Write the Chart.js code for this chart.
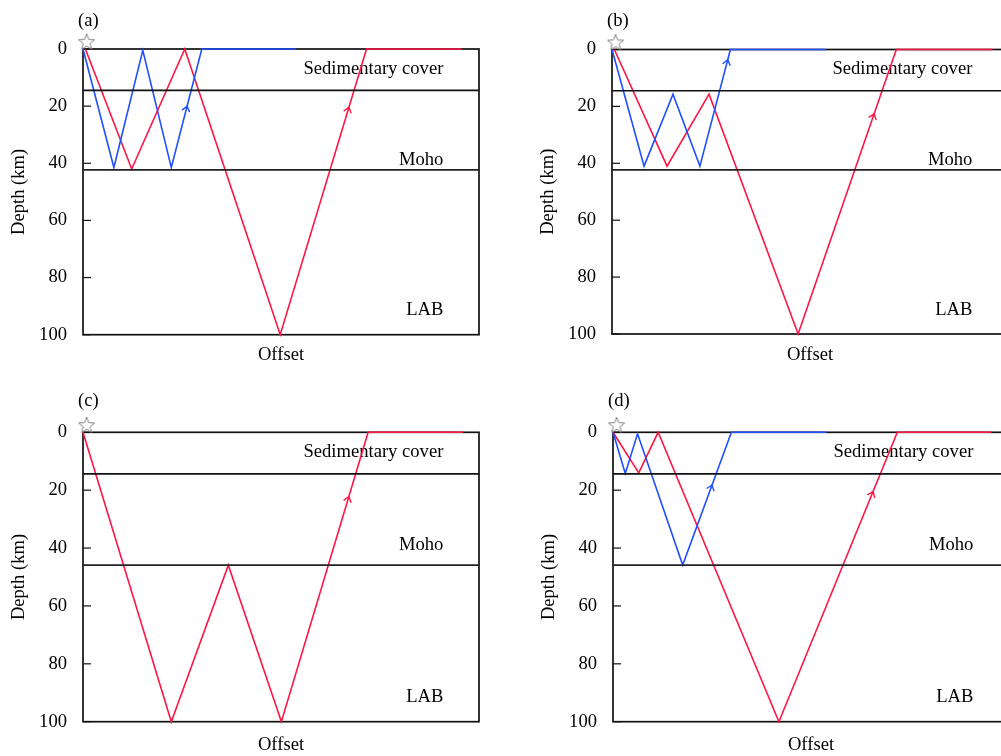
<!DOCTYPE html>
<html>
<head>
<meta charset="utf-8">
<script src="https://cdn.jsdelivr.net/npm/chart.js@4.4.1/dist/chart.umd.min.js"></script>
<style>
  html, body { margin: 0; padding: 0; background: #fff; overflow: hidden; width: 1001px; height: 756px; }
  canvas { position: absolute; }
</style>
</head>
<body>
<canvas id="pa" width="500" height="388" style="left:0px;top:0px"></canvas>
<canvas id="pb" width="500" height="388" style="left:529px;top:0px"></canvas>
<canvas id="pc" width="500" height="388" style="left:0px;top:380px"></canvas>
<canvas id="pd" width="500" height="388" style="left:530px;top:380px"></canvas>
<script>
// ---- data (offset 0-100, depth in km) ----
const panelNames = ["(a)", "(b)", "(c)", "(d)"];
const depthTicks = [0, 20, 40, 60, 80, 100];
const layerLabels = ["Sedimentary cover", "Moho", "LAB"];
const layerLabelDepths = [7, 39, 91.5];
const sedimentDepths = [14.5, 14.5, 14.4, 14.4];
const mohoDepths = [42.3, 42.3, 45.9, 45.9];
const starOffset = 0.9;
const starDepth = -2.5;

const blueOffsetA = [0, 7.8, 15.1, 22.3, 30.0, 53.7];
const blueDepthA  = [0, 41.5, 0.5, 41.5, 0, 0];
const redOffsetA  = [0.6, 12.3, 25.7, 49.8, 71.6, 95.6];
const redDepthA   = [0, 42, 0, 100, 0, 0];

const blueOffsetB = [0, 8.1, 15.4, 22.2, 29.9, 53.9];
const blueDepthB  = [0, 41, 15.7, 41, 0, 0];
const redOffsetB  = [0.6, 13.9, 24.5, 47.0, 71.8, 96.1];
const redDepthB   = [0, 41, 15.7, 100, 0, 0];

const redOffsetC  = [0, 22.3, 36.7, 50.1, 72.0, 95.9];
const redDepthC   = [0, 100, 45.9, 100, 0, 0];

const blueOffsetD = [0, 3.1, 6.2, 17.6, 29.9, 53.9];
const blueDepthD  = [0, 14.2, 0.5, 45.9, 0, 0];
const redOffsetD  = [0, 6.5, 11.4, 41.9, 71.8, 95.5];
const redDepthD   = [0, 14, 0, 100, 0, 0];

// depth of the arrow on the last upgoing leg of each ray
const blueArrowDepths = [20, 3.6, null, 18.2];
const redArrowDepths  = [20.4, 22.6, 22.2, 20.5];

const BLUE = "#1f4fff";
const RED = "#ff1444";
const FONT = "Liberation Serif";
const FSIZE = 18.6;
const labelOffset = 91;

function pts(xs, ys) {
  return xs.map((v, i) => ({ x: v, y: ys[i] }));
}

// hollow star used as the source marker
const starImg = document.createElement("canvas");
starImg.width = 20; starImg.height = 20;
(function () {
  const c = starImg.getContext("2d");
  c.beginPath();
  for (let i = 0; i < 10; i++) {
    const r = i % 2 === 0 ? 8.5 : 3.6;
    const a = -Math.PI / 2 + i * Math.PI / 5;
    const px = 10 + r * Math.cos(a), py = 10.5 + r * Math.sin(a);
    if (i === 0) c.moveTo(px, py); else c.lineTo(px, py);
  }
  c.closePath();
  c.fillStyle = "#fff";
  c.fill();
  c.strokeStyle = "#808080";
  c.lineWidth = 1;
  c.stroke();
})();

const decorPlugin = {
  id: "decor",
  beforeDatasetsDraw(chart) {
    const { ctx, chartArea: a, scales } = chart;
    const y = scales.y, x = scales.x;
    ctx.save();
    ctx.strokeStyle = "#111";
    ctx.lineWidth = 1.7;
    ctx.strokeRect(a.left, a.top, a.right - a.left, a.bottom - a.top);
    ctx.lineWidth = 1.2;
    y.ticks.forEach((t) => {
      const py = y.getPixelForValue(t.value);
      ctx.beginPath();
      ctx.moveTo(a.left, py);
      ctx.lineTo(a.left + 8, py);
      ctx.stroke();
    });
    ctx.font = FSIZE + "px '" + FONT + "'";
    ctx.fillStyle = "#000";
    ctx.textAlign = "right";
    ctx.textBaseline = "middle";
    layerLabels.forEach((s, i) => {
      ctx.fillText(s, x.getPixelForValue(labelOffset), y.getPixelForValue(layerLabelDepths[i]));
    });
    ctx.textAlign = "left";
    ctx.fillText(chart.options.plugins.decor.name, a.left - 5, 20.7);
    ctx.restore();
  },
  afterDatasetsDraw(chart) {
    const { ctx, scales } = chart;
    const x = scales.x, y = scales.y;
    ctx.save();
    chart.data.datasets.forEach((ds) => {
      if (ds.arrowDepth == null) return;
      const d = ds.data;
      let i = d.length - 2;
      while (i >= 0 && !(d[i].y > d[i + 1].y)) i--;
      if (i < 0) return;
      const p0 = d[i], p1 = d[i + 1];
      const t = (p0.y - ds.arrowDepth) / (p0.y - p1.y);
      const px = x.getPixelForValue(p0.x + t * (p1.x - p0.x));
      const py = y.getPixelForValue(ds.arrowDepth);
      const ang = Math.atan2(y.getPixelForValue(p1.y) - y.getPixelForValue(p0.y),
                             x.getPixelForValue(p1.x) - x.getPixelForValue(p0.x));
      ctx.strokeStyle = ds.borderColor;
      ctx.lineWidth = 1.4;
      ctx.beginPath();
      ctx.moveTo(px - 6.5 * Math.cos(ang - 0.65), py - 6.5 * Math.sin(ang - 0.65));
      ctx.lineTo(px, py);
      ctx.lineTo(px - 6.5 * Math.cos(ang + 0.65), py - 6.5 * Math.sin(ang + 0.65));
      ctx.stroke();
    });
    ctx.restore();
  }
};

function makePanel(id, k, blue, red, plotTop, plotBottom, titleY) {
  const H = 388;
  const datasets = [
    { data: pts([0, 100], [sedimentDepths[k], sedimentDepths[k]]), borderColor: "#111", borderWidth: 1.7 },
    { data: pts([0, 100], [mohoDepths[k], mohoDepths[k]]), borderColor: "#222", borderWidth: 1.7 }
  ];
  if (blue) {
    datasets.push({ data: blue, borderColor: BLUE, borderWidth: 1.6, clip: false, arrowDepth: blueArrowDepths[k] });
  }
  datasets.push({ data: red, borderColor: RED, borderWidth: 1.6, clip: false, arrowDepth: redArrowDepths[k] });
  datasets.push({
    data: [{ x: starOffset, y: starDepth }],
    showLine: false, pointStyle: starImg, pointRadius: 10, clip: false
  });
  datasets.forEach((ds) => {
    if (ds.showLine === undefined) ds.showLine = true;
    if (ds.pointRadius === undefined) ds.pointRadius = 0;
  });

  return new Chart(document.getElementById(id), {
    type: "scatter",
    data: { datasets: datasets },
    options: {
      responsive: false,
      animation: false,
      layout: { padding: { top: plotTop, right: 21, left: 0, bottom: 0 } },
      plugins: {
        legend: { display: false },
        tooltip: { enabled: false },
        decor: { name: panelNames[k] }
      },
      scales: {
        x: {
          type: "linear",
          min: 0,
          max: 100,
          grid: { display: false },
          border: { display: false },
          ticks: { display: false },
          title: {
            display: true,
            text: "Offset",
            color: "#000",
            font: { family: FONT, size: FSIZE },
            padding: { top: 0, bottom: H - titleY - FSIZE * 0.6 }
          },
          afterFit: (s) => { s.height = H - plotBottom; }
        },
        y: {
          type: "linear",
          reverse: true,
          min: 0,
          max: 100,
          afterBuildTicks: (s) => { s.ticks = depthTicks.map((v) => ({ value: v })); },
          grid: { drawOnChartArea: false, drawTicks: false },
          border: { display: false },
          ticks: { color: "#000", padding: 16, font: { family: FONT, size: FSIZE } },
          title: {
            display: true,
            text: "Depth (km)",
            color: "#000",
            font: { family: FONT, size: FSIZE },
            padding: { top: 7.5, bottom: 0 }
          },
          afterFit: (s) => { s.width = 83; }
        }
      }
    },
    plugins: [decorPlugin]
  });
}

makePanel("pa", 0, pts(blueOffsetA, blueDepthA), pts(redOffsetA, redDepthA), 49, 334.7, 355.5);
makePanel("pb", 1, pts(blueOffsetB, blueDepthB), pts(redOffsetB, redDepthB), 49.5, 334, 355.5);
makePanel("pc", 2, null, pts(redOffsetC, redDepthC), 52.3, 341.7, 365);
makePanel("pd", 3, pts(blueOffsetD, blueDepthD), pts(redOffsetD, redDepthD), 52.3, 341.7, 365);
</script>
</body>
</html>
